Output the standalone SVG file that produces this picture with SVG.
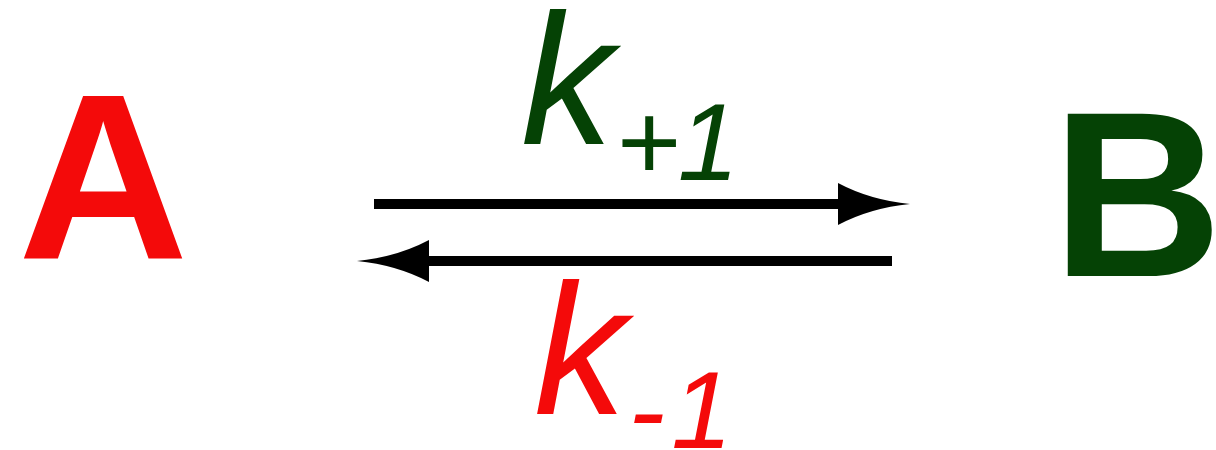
<svg xmlns="http://www.w3.org/2000/svg" width="1216" height="450" viewBox="0 0 1216 450">
<style>
.big{font-family:"Liberation Sans",Arial,sans-serif;font-weight:bold;font-size:236px}
.k{font-family:"Liberation Sans",Arial,sans-serif;font-style:italic;font-size:185px}
.sub{font-family:"Liberation Sans",Arial,sans-serif;font-style:italic;font-size:110px}
.red{fill:#f40a0a}
.green{fill:#054205}
.line{stroke:#000;stroke-width:10;fill:none}
</style>
<g id="A"><text class="big red" x="18" y="258" textLength="172">A</text></g>
<g id="B"><text class="big green" x="1052" y="276">B</text></g>
<g id="connectors">
<line class="line" x1="374" y1="204" x2="845" y2="204"/>
<path d="M838,183 Q870,200 910,204 Q870,208 838,225 Z" fill="#000"/>
<line class="line" x1="422" y1="261" x2="892" y2="261"/>
<path d="M429,240 Q397,257 357,261 Q397,265 429,282 Z" fill="#000"/>
</g>
<g id="label-forward"><text class="green" x="521" y="144"><tspan class="k">k</tspan><tspan class="sub" dx="2" dy="36">+</tspan><tspan class="sub" dx="-2">1</tspan></text></g>
<g id="label-reverse"><text class="red" x="534" y="414"><tspan class="k">k</tspan><tspan class="sub" dx="2" dy="34">-</tspan><tspan class="sub" dx="6">1</tspan></text></g>
</svg>
